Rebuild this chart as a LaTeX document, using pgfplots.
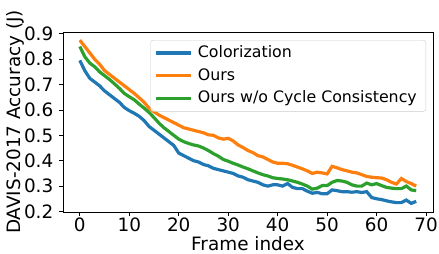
\documentclass[border=0pt]{standalone}
\usepackage{fontspec}
\setmainfont{DejaVu Sans}
\usepackage{pgfplots}
\pgfplotsset{compat=1.18}
\definecolor{tabblue}{HTML}{1F77B4}
\definecolor{taborange}{HTML}{FF7F0E}
\definecolor{tabgreen}{HTML}{2CA02C}
\begin{document}
\begin{tikzpicture}
\useasboundingbox (-63bp,-42bp) rectangle (376bp,212bp);
\begin{axis}[
  at={(0,0)}, anchor=south west,
  scale only axis, width=370bp, height=180bp,
  xmin=-3.4, xmax=71.4, ymin=0.198, ymax=0.907,
  xtick={0,10,...,70},
  ytick={0.2,0.3,0.4,0.5,0.6,0.7,0.8,0.9},
  yticklabel style={/pgf/number format/fixed, /pgf/number format/fixed zerofill, /pgf/number format/precision=1},
  /pgf/number format/assume math mode=true,
  tick align=outside, major tick length=3.5bp,
  tick style={black, line width=0.8bp},
  axis line style={line width=0.8bp},
  tick label style={font=\fontsize{18.4bp}{22bp}\selectfont},
  xticklabel style={inner sep=0pt, anchor=north, yshift=-2bp},
  yticklabel style={inner sep=0pt, anchor=east, xshift=-6bp},
  xtick pos=bottom, ytick pos=left,
  xlabel={Frame index},
  ylabel={DAVIS-2017 Accuracy (J)},
  every axis x label/.style={at={(axis description cs:0.5,0)}, anchor=base, yshift=-38.5bp, font=\fontsize{18.4bp}{22bp}\selectfont},
  every axis y label/.style={at={(axis description cs:0,0.5)}, rotate=90, anchor=center, yshift=48bp, font=\fontsize{18.4bp}{22bp}\selectfont},
  legend cell align=left,
  legend image code/.code={\draw[#1, line width=3.2bp] (0bp,0bp) -- (35bp,0bp);},
  legend style={at={(1,1)}, anchor=north east, xshift=-7bp, yshift=-8bp,
    draw=black!20, rounded corners=2.5bp, fill=white, fill opacity=0.8, text opacity=1,
    font=\fontsize{15.8bp}{19bp}\selectfont, row sep=7.3bp,
    inner xsep=4bp, inner ysep=5bp,
    nodes={text height=12bp, text depth=3.5bp, inner ysep=0bp, inner xsep=5bp}},
]
\addplot[tabblue, line width=3.2bp] coordinates {
(0,0.795)(1,0.755)(2,0.725)(3,0.71)(4,0.695)(5,0.675)(6,0.66)(7,0.645)(8,0.63)(9,0.61)
(10,0.597)(11,0.587)(12,0.575)(13,0.558)(14,0.535)(15,0.52)(16,0.505)(17,0.49)(18,0.475)(19,0.46)
(20,0.43)(21,0.42)(22,0.41)(23,0.40)(24,0.395)(25,0.385)(26,0.38)(27,0.37)(28,0.365)(29,0.36)
(30,0.355)(31,0.35)(32,0.34)(33,0.335)(34,0.325)(35,0.32)(36,0.315)(37,0.305)(38,0.30)(39,0.305)
(40,0.305)(41,0.30)(42,0.31)(43,0.295)(44,0.29)(45,0.29)(46,0.28)(47,0.272)(48,0.275)(49,0.27)
(50,0.27)(51,0.285)(52,0.282)(53,0.278)(54,0.278)(55,0.276)(56,0.278)(57,0.275)(58,0.278)(59,0.255)
(60,0.25)(61,0.247)(62,0.242)(63,0.238)(64,0.235)(65,0.235)(66,0.245)(67,0.232)(68,0.24)
};
\addlegendentry{Colorization}
\addplot[taborange, line width=3.2bp] coordinates {
(0,0.875)(1,0.85)(2,0.825)(3,0.80)(4,0.78)(5,0.755)(6,0.74)(7,0.725)(8,0.71)(9,0.695)
(10,0.68)(11,0.665)(12,0.648)(13,0.63)(14,0.607)(15,0.593)(16,0.58)(17,0.57)(18,0.56)(19,0.55)
(20,0.54)(21,0.53)(22,0.525)(23,0.52)(24,0.515)(25,0.51)(26,0.502)(27,0.50)(28,0.49)(29,0.485)
(30,0.488)(31,0.478)(32,0.462)(33,0.452)(34,0.44)(35,0.432)(36,0.42)(37,0.415)(38,0.405)(39,0.395)
(40,0.39)(41,0.39)(42,0.388)(43,0.382)(44,0.375)(45,0.368)(46,0.36)(47,0.35)(48,0.355)(49,0.352)
(50,0.348)(51,0.378)(52,0.372)(53,0.365)(54,0.36)(55,0.355)(56,0.352)(57,0.345)(58,0.338)(59,0.335)
(60,0.333)(61,0.332)(62,0.325)(63,0.315)(64,0.308)(65,0.33)(66,0.318)(67,0.31)(68,0.30)
};
\addlegendentry{Ours}
\addplot[tabgreen, line width=3.2bp] coordinates {
(0,0.85)(1,0.81)(2,0.785)(3,0.77)(4,0.75)(5,0.735)(6,0.72)(7,0.703)(8,0.685)(9,0.665)
(10,0.652)(11,0.64)(12,0.623)(13,0.607)(14,0.59)(15,0.57)(16,0.548)(17,0.53)(18,0.515)(19,0.50)
(20,0.485)(21,0.475)(22,0.468)(23,0.462)(24,0.458)(25,0.45)(26,0.44)(27,0.428)(28,0.418)(29,0.405)
(30,0.398)(31,0.39)(32,0.383)(33,0.375)(34,0.368)(35,0.36)(36,0.352)(37,0.345)(38,0.34)(39,0.333)
(40,0.33)(41,0.328)(42,0.325)(43,0.32)(44,0.315)(45,0.308)(46,0.30)(47,0.288)(48,0.292)(49,0.302)
(50,0.302)(51,0.315)(52,0.322)(53,0.32)(54,0.315)(55,0.305)(56,0.30)(57,0.30)(58,0.312)(59,0.305)
(60,0.31)(61,0.302)(62,0.295)(63,0.292)(64,0.29)(65,0.29)(66,0.30)(67,0.285)(68,0.282)
};
\addlegendentry{Ours w/o Cycle Consistency}
\end{axis}
\end{tikzpicture}
\end{document}
